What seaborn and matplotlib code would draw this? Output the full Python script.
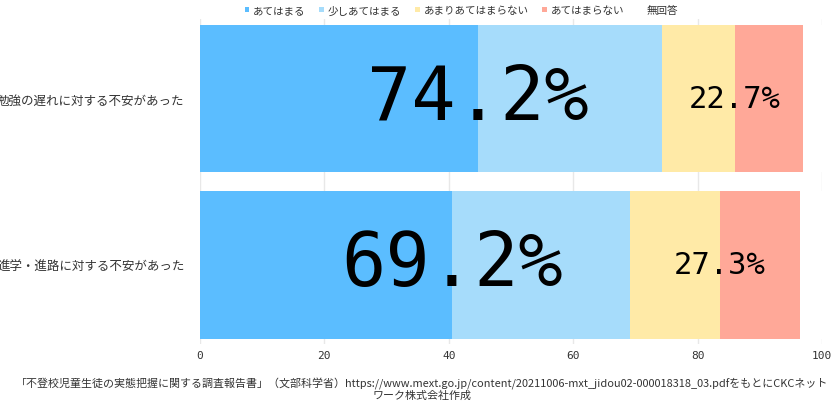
import pandas as pd
import matplotlib.pyplot as plt
import seaborn as sns
from matplotlib.patches import Patch

# Values (percent of respondents)
questions = ["勉強の遅れに対する不安があった", "進学・進路に対する不安があった"]
answers = ["あてはまる", "少しあてはまる", "あまりあてはまらない", "あてはまらない", "無回答"]
agree = [44.7, 40.6]
somewhat_agree = [29.5, 28.6]
somewhat_disagree = [11.8, 14.4]
disagree = [10.9, 12.9]
no_answer = [3.1, 3.5]
colors = ["#5bbdff", "#a6dcfb", "#ffeaa7", "#ffa898", "#ffffff"]
source = ("「不登校児童生徒の実態把握に関する調査報告書」（文部科学省）"
          "https://www.mext.go.jp/content/20211006-mxt_jidou02-000018318_03.pdfをもとにCKCネット\n"
          "ワーク株式会社作成")


def main():
    df = pd.DataFrame({
        "question": questions,
        answers[0]: agree,
        answers[1]: somewhat_agree,
        answers[2]: somewhat_disagree,
        answers[3]: disagree,
        answers[4]: no_answer,
    })
    cum = df[answers].cumsum(axis=1)

    sns.set_theme(style="white")
    plt.rcParams["font.family"] = ["Noto Sans CJK JP", "DejaVu Sans"]

    fig = plt.figure(figsize=(8.4, 4.1), dpi=100)
    ax = fig.add_axes([0.238, 0.1585, 0.7406, 0.7925])

    # stacked bars: draw cumulative totals from the largest down
    for i in reversed(range(len(answers))):
        sns.barplot(x=cum[answers[i]], y=df["question"], color=colors[i],
                    orient="h", width=0.89, saturation=1, linewidth=0,
                    ax=ax, zorder=2)

    ax.set_xlim(0, 100)
    ax.set_ylim(1.478, -0.478)
    ax.set_xticks(range(0, 101, 20))
    ax.grid(axis="x", color="#e8e8e8", linewidth=1, zorder=0)
    ax.set_axisbelow(True)
    for s in ax.spines.values():
        s.set_visible(False)
    ax.set_xlabel("")
    ax.set_ylabel("")
    ax.tick_params(axis="x", length=0, pad=4, labelsize=8, labelcolor="#333333")
    ax.tick_params(axis="y", length=0, pad=11, labelsize=9, labelcolor="#333333")
    for lab in ax.get_xticklabels():
        lab.set_family("DejaVu Sans Mono")

    # summary labels
    for j in range(len(questions)):
        pos_total = agree[j] + somewhat_agree[j]
        neg_total = somewhat_disagree[j] + disagree[j]
        ax.text(cum[answers[0]][j], j, f"{pos_total:.1f}%", ha="center", va="center",
                fontsize=53, family="DejaVu Sans Mono", color="black", zorder=5)
        ax.text(cum[answers[2]][j], j, f"{neg_total:.1f}%", ha="center", va="center",
                fontsize=22, family="DejaVu Sans Mono", color="black", zorder=5)

    handles = [Patch(facecolor=c, edgecolor="none") for c in colors]
    fig.legend(handles, answers, loc="upper center", bbox_to_anchor=(0.549, 1.008),
               ncol=5, frameon=False, fontsize=7.6, handlelength=0.45, handleheight=0.45,
               handletextpad=0.35, columnspacing=1.3, labelcolor="#333333")

    fig.text(0.502, 0.078, source, ha="center", va="top", fontsize=7.9,
             color="#333333", linespacing=1.05)

    fig.savefig("out.png", dpi=100)
    plt.close(fig)


if __name__ == "__main__":
    main()
